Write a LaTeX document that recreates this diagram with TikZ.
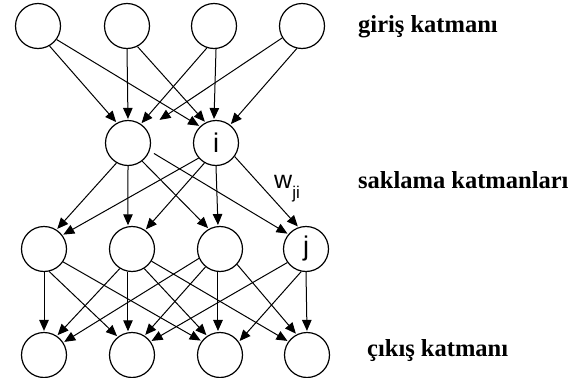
\documentclass[tikz,border=0pt]{standalone}
\usepackage{fontspec}
\setmainfont{Liberation Serif}
\newfontfamily\labelsans{Liberation Sans}
\usetikzlibrary{arrows.meta}
\tikzset{
  neuron/.style={circle, draw, line width=1.2pt, minimum size=45pt, inner sep=0pt,
    font=\labelsans\fontsize{27}{27}\selectfont},
  link/.style={-{Triangle[length=11pt,width=9.5pt]}, line width=1pt, shorten >=1pt},
  layername/.style={anchor=base west, inner sep=0pt,
    font=\fontsize{24.5}{24.5}\selectfont\bfseries},
}
\begin{document}
\begin{tikzpicture}[x=1pt,y=-1pt]
\useasboundingbox (0,0) rectangle (582,378);

% input layer
\node[neuron] (I1) at (38,26) {};
\node[neuron] (I2) at (127,26) {};
\node[neuron] (I3) at (214,26) {};
\node[neuron] (I4) at (302,26) {};
% hidden layers
\node[neuron] (H1) at (128,143) {};
\node[neuron] (H2) at (216,143) {i};
\node[neuron] (L1) at (44,249) {};
\node[neuron] (L2) at (132,249) {};
\node[neuron] (L3) at (220,249) {};
\node[neuron] (L4) at (306,249) {j};
% output layer
\node[neuron] (O1) at (44,355) {};
\node[neuron] (O2) at (132,355) {};
\node[neuron] (O3) at (220,355) {};
\node[neuron] (O4) at (307,355) {};

% layer names
\node[layername] (tin)  at (358,32)  {giriş katmanı};
\node[layername] (thid) at (358,188) {saklama katmanları};
\node[layername] (tout) at (367,356) {çıkış katmanı};

% weight label
\node[anchor=base west, inner sep=0pt, font=\labelsans\fontsize{25}{25}\selectfont]
  (wji) at (274,188) {w\raisebox{-10pt}{\fontsize{17}{17}\selectfont ji}};

% input -> first hidden
\draw[link] (I1.300) -- (H1.119);
\draw[link] (I1.324) -- (H2.134);
\draw[link] (I2.270) -- (H1.90);
\draw[link] (I2.297) -- (H2.117);
\draw[link] (I3.252) -- (H1.56);
\draw[link] (I3.275) -- (H2.95);
\draw[link, shorten >=16pt] (I4.211) -- (H1.38);
\draw[link] (I4.257) -- (H2.52);

% first hidden -> second hidden
\draw[link] (H1.240) -- (L1.57);
\draw[link] (H1.270) -- (L2.100);
\draw[link] (H1.308) -- (L3.119);
\draw[link, shorten <=5pt] (H1.340) -- (L4.140);
\draw[link] (H2.221) -- (L1.37);
\draw[link] (H2.240) -- (L2.55);
\draw[link] (H2.270) -- (L3.95);
\draw[link] (H2.324) -- (L4.109);

% second hidden -> output
\draw[link] (L1.270) -- (O1.90);
\draw[link] (L1.283) -- (O2.128);
\draw[link] (L1.326) -- (O3.143);
\draw[link] (L2.238) -- (O1.56);
\draw[link] (L2.260) -- (O2.100);
\draw[link] (L2.302) -- (O3.124);
\draw[link] (L2.328) -- (O4.144);
\draw[link] (L3.204) -- (O1.33);
\draw[link] (L3.231) -- (O2.57);
\draw[link] (L3.265) -- (O3.95);
\draw[link] (L3.318) -- (O4.117);
\draw[link] (L4.216) -- (O2.36);
\draw[link] (L4.258) -- (O3.35);
\draw[link] (L4.270) -- (O4.90);
\end{tikzpicture}
\end{document}
